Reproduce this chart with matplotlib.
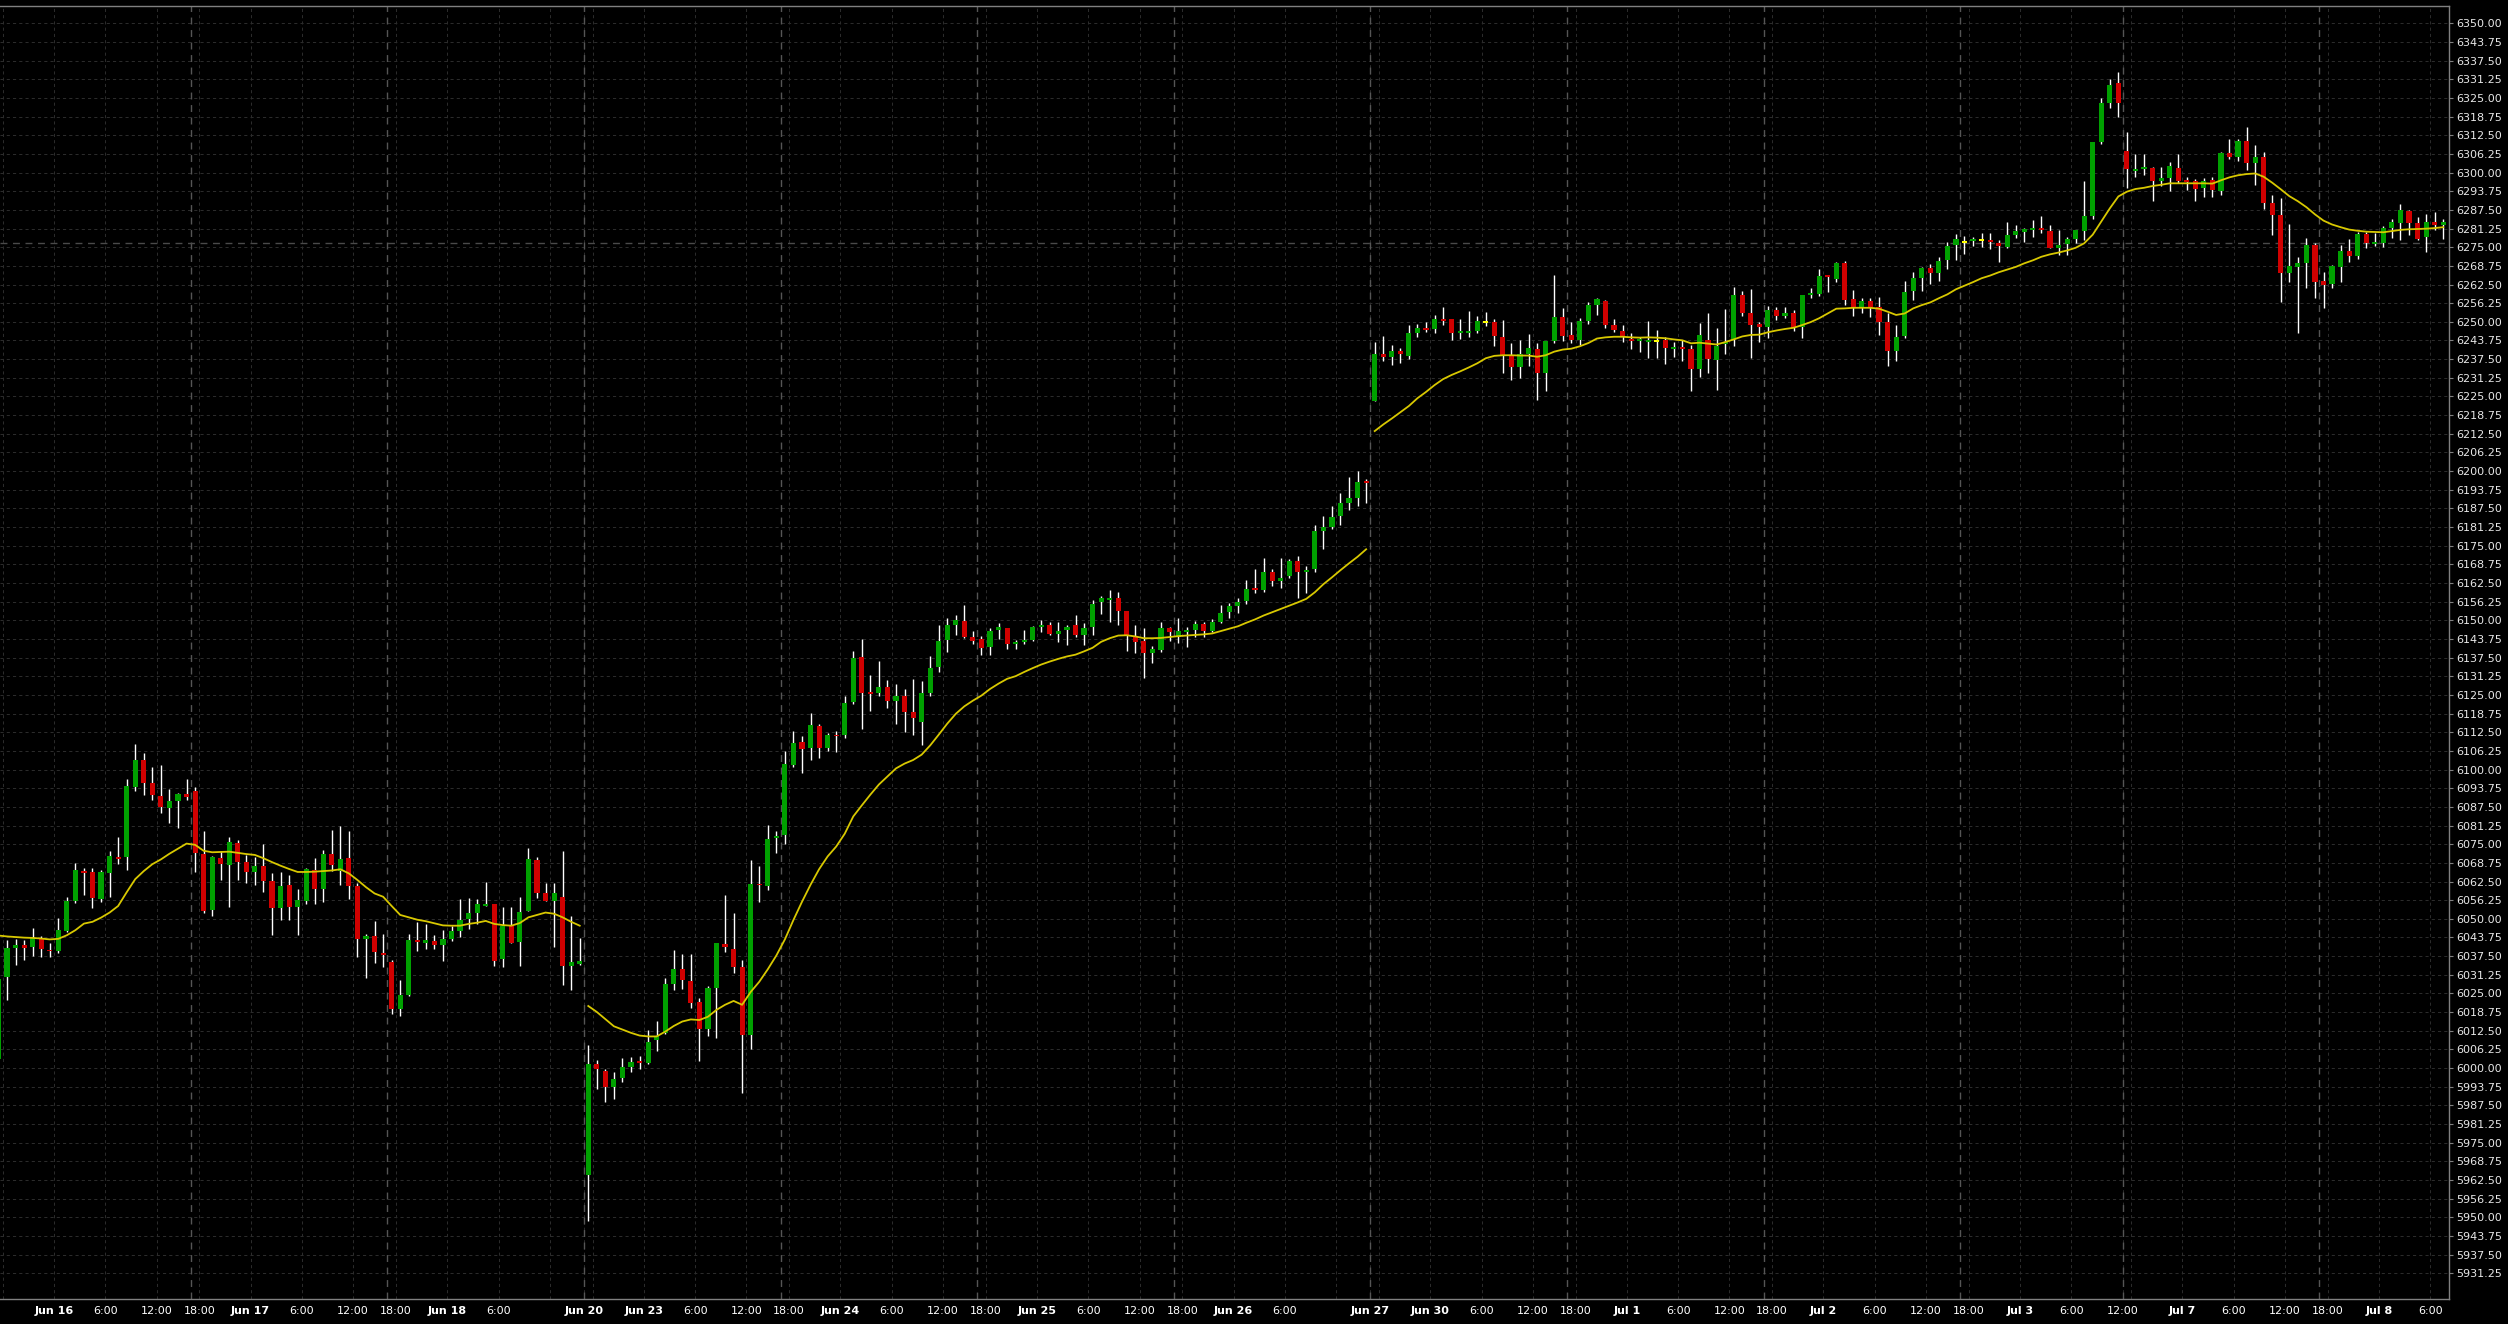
import numpy as np
import matplotlib
matplotlib.use('Agg')
import matplotlib.pyplot as plt

# hourly bars, one index per bar (sessions 17:00-15:00, gaps removed)
opens = [
    6003, 6030.4, 6040.1, 6041.2, 6040.7, 6043.5, 6039.7, 6039.3, 6046.0, 6056.0,
    6065.8, 6065.7, 6056.6, 6065.5, 6070.7, 6070.8, 6094.3, 6103.2, 6095.4, 6091.1,
    6087.2, 6089.5, 6091.7, 6092.8, 6071.7, 6053.0, 6070.3, 6068.1, 6075.3, 6068.9,
    6065.8, 6067.8, 6062.7, 6053.7, 6061.3, 6054.1, 6056.1, 6066.3, 6059.9, 6071.7,
    6066.0, 6070.4, 6061.0, 6043.1, 6044.2, 6038.4, 6035.4, 6019.7, 6024.5, 6042.9,
    6042.0, 6042.5, 6041.2, 6043.2, 6046.0, 6049.9, 6051.8, 6054.5, 6055.0, 6036.4,
    6047.7, 6042.3, 6052.7, 6069.7, 6058.8, 6056.1, 6057.2, 6034.2, 6035.0, 5964.2,
    6001.4, 5999.0, 5993.8, 5996.8, 6000.3, 6002.4, 6001.8, 6009.4, 6011.7, 6028.2,
    6033.2, 6029.2, 6022.2, 6013.1, 6026.8, 6041.7, 6039.8, 6033.8, 6011.0, 6061.8,
    6060.9, 6077.0, 6078.0, 6101.4, 6109.3, 6107.2, 6114.5, 6107.2, 6111.7, 6111.7,
    6122.7, 6137.7, 6126.0, 6125.7, 6127.6, 6123.1, 6124.5, 6119.3, 6116.0, 6125.7,
    6134.5, 6143.4, 6148.5, 6149.7, 6144.3, 6143.8, 6141.2, 6146.6, 6147.4, 6142.3,
    6142.8, 6143.4, 6147.9, 6148.3, 6145.5, 6146.7, 6148.3, 6145.0, 6147.7, 6156.0,
    6157.0, 6157.4, 6153.2, 6144.6, 6143.0, 6138.9, 6140.1, 6147.4, 6144.5, 6146.2,
    6146.8, 6148.8, 6146.4, 6149.3, 6152.8, 6154.8, 6156.5, 6160.7, 6160.2, 6166.2,
    6163.2, 6164.9, 6169.9, 6166.3, 6167.2, 6179.9, 6181.2, 6185.0, 6189.3, 6191.0,
    6196.7, 6223.5, 6239.2, 6238.3, 6240.2, 6238.7, 6246.2, 6247.8, 6247.7, 6250.9,
    6250.9, 6246.4, 6246.4, 6246.9, 6250.0, 6250.0, 6244.8, 6238.9, 6235.0, 6239.2,
    6240.9, 6233.0, 6243.6, 6251.5, 6245.6, 6243.9, 6250.3, 6255.6, 6257.0, 6249.0,
    6246.9, 6244.1, 6243.8, 6243.4, 6243.7, 6243.9, 6241.0, 6241.4, 6240.8, 6234.2,
    6243.9, 6237.2, 6242.6, 6243.9, 6259.0, 6252.8, 6249.3, 6248.4, 6254.0, 6252.0,
    6252.8, 6248.1, 6259.0, 6259.3, 6265.7, 6264.2, 6269.8, 6257.5, 6255.1, 6257.0,
    6255.1, 6250.0, 6240.3, 6245.2, 6260.3, 6264.8, 6267.9, 6266.4, 6270.7, 6275.7,
    6276.8, 6277.2, 6277.5, 6277.4, 6276.3, 6275.2, 6279.1, 6280.2, 6281.0, 6281.3,
    6280.4, 6274.8, 6276.1, 6277.7, 6280.5, 6285.4, 6310.3, 6323.4, 6329.9, 6307.3,
    6300.6, 6301.3, 6301.6, 6297.3, 6298.3, 6301.6, 6297.5, 6297.2, 6294.8, 6297.5,
    6293.9, 6306.4, 6305.3, 6310.6, 6303.1, 6305.1, 6289.7, 6285.8, 6266.2, 6268.5,
    6269.8, 6275.7, 6263.8, 6262.7, 6268.5, 6273.7, 6272.2, 6279.4, 6276.0, 6276.3,
    6281.5, 6283.2, 6287.1, 6283.0, 6278.5, 6283.3, 6282.4]
highs = [
    6032, 6042.9, 6043.1, 6042.9, 6047.0, 6044.3, 6041.8, 6050.2, 6057.4, 6068.6,
    6066.9, 6066.9, 6066.5, 6072.7, 6077.5, 6097.0, 6108.6, 6105.4, 6101.0, 6101.5,
    6093.4, 6092.3, 6096.7, 6094.0, 6079.4, 6071.0, 6072.8, 6077.5, 6076.4, 6071.4,
    6070.8, 6075.1, 6065.2, 6065.8, 6064.7, 6059.9, 6066.9, 6070.3, 6073.1, 6079.8,
    6081.1, 6079.4, 6062.1, 6044.8, 6049.3, 6044.8, 6036.2, 6029.5, 6044.8, 6049.1,
    6048.3, 6044.6, 6046.3, 6047.7, 6056.5, 6057.1, 6056.7, 6062.4, 6055.0, 6054.1,
    6054.1, 6057.4, 6073.6, 6070.8, 6061.9, 6061.9, 6072.7, 6051.0, 6043.5, 6007.7,
    6002.7, 5999.7, 5998.8, 6003.5, 6003.7, 6004.1, 6012.6, 6015.9, 6030.1, 6039.6,
    6038.2, 6038.2, 6023.6, 6027.5, 6042.0, 6058.1, 6052.0, 6036.2, 6069.7, 6067.6,
    6081.3, 6079.4, 6106.2, 6112.9, 6111.1, 6119.0, 6115.4, 6112.3, 6112.9, 6124.5,
    6139.7, 6143.8, 6131.8, 6136.5, 6130.0, 6128.8, 6127.0, 6130.4, 6129.6, 6138.2,
    6148.6, 6150.7, 6151.9, 6155.3, 6146.5, 6144.6, 6147.3, 6149.1, 6147.4, 6143.4,
    6146.7, 6148.2, 6150.1, 6149.5, 6149.5, 6148.3, 6151.9, 6149.1, 6156.8, 6158.0,
    6160.1, 6159.5, 6153.2, 6148.3, 6147.4, 6141.3, 6149.5, 6147.9, 6150.7, 6147.9,
    6149.9, 6149.6, 6150.3, 6155.1, 6155.7, 6157.4, 6163.5, 6167.1, 6170.8, 6167.1,
    6170.8, 6170.4, 6171.6, 6168.2, 6181.9, 6184.9, 6188.3, 6192.8, 6198.1, 6200.1,
    6197.2, 6243.4, 6245.3, 6242.2, 6241.1, 6248.9, 6249.3, 6250.1, 6252.3, 6255.1,
    6250.9, 6250.9, 6253.6, 6251.9, 6253.4, 6250.8, 6250.6, 6243.0, 6243.9, 6245.9,
    6242.8, 6243.6, 6265.7, 6254.5, 6250.1, 6251.4, 6256.7, 6257.9, 6257.3, 6250.8,
    6248.9, 6246.1, 6244.8, 6250.3, 6247.3, 6245.0, 6243.3, 6243.9, 6242.2, 6249.5,
    6252.8, 6247.8, 6254.2, 6261.8, 6260.4, 6261.0, 6250.0, 6255.3, 6255.1, 6255.1,
    6254.0, 6259.0, 6261.2, 6267.6, 6265.7, 6270.1, 6270.5, 6260.6, 6257.9, 6257.9,
    6258.4, 6253.1, 6248.9, 6263.8, 6266.8, 6268.5, 6269.4, 6271.8, 6276.8, 6279.4,
    6278.7, 6278.3, 6279.9, 6279.9, 6277.4, 6283.5, 6282.4, 6281.3, 6284.1, 6285.4,
    6282.4, 6280.8, 6278.5, 6280.8, 6297.2, 6310.3, 6324.9, 6331.2, 6333.8, 6313.7,
    6306.2, 6306.2, 6302.0, 6302.0, 6303.6, 6306.2, 6298.4, 6297.7, 6298.1, 6298.6,
    6307.0, 6311.2, 6311.2, 6315.4, 6309.2, 6307.0, 6292.5, 6291.4, 6282.8, 6271.8,
    6278.0, 6276.3, 6266.8, 6269.0, 6275.7, 6277.7, 6280.0, 6280.2, 6279.9, 6282.1,
    6284.3, 6289.5, 6287.5, 6285.2, 6286.1, 6286.7, 6284.3]
lows = [
    6001, 6022.8, 6034.5, 6036.2, 6037.5, 6037.3, 6037.3, 6038.4, 6045.7, 6055.2,
    6058.0, 6053.5, 6055.5, 6057.4, 6068.4, 6066.4, 6092.9, 6091.5, 6089.8, 6085.3,
    6082.2, 6080.3, 6089.8, 6065.8, 6052.0, 6051.0, 6063.0, 6053.9, 6063.0, 6061.9,
    6061.3, 6059.1, 6044.6, 6049.6, 6049.6, 6044.6, 6055.0, 6055.0, 6055.8, 6066.1,
    6061.3, 6056.6, 6037.3, 6030.1, 6035.1, 6033.7, 6018.1, 6017.4, 6024.2, 6039.3,
    6039.8, 6039.8, 6036.0, 6042.7, 6043.8, 6046.5, 6048.2, 6054.4, 6034.3, 6034.0,
    6041.8, 6034.3, 6052.7, 6056.9, 6055.9, 6040.7, 6027.8, 6026.2, 6034.5, 5948.9,
    5993.0, 5988.8, 5989.7, 5995.5, 5998.8, 5999.7, 6001.4, 6005.7, 6011.5, 6026.2,
    6026.5, 6020.2, 6002.5, 6010.9, 6010.2, 6039.0, 6031.9, 5991.7, 6006.3, 6055.7,
    6059.7, 6072.1, 6075.2, 6100.8, 6098.9, 6103.2, 6103.8, 6106.2, 6106.0, 6110.5,
    6122.1, 6113.6, 6119.6, 6124.5, 6120.6, 6115.4, 6112.6, 6111.7, 6108.3, 6124.8,
    6132.8, 6139.4, 6145.2, 6144.2, 6142.2, 6138.5, 6138.5, 6143.8, 6140.3, 6140.3,
    6142.2, 6143.0, 6146.2, 6145.0, 6142.8, 6141.6, 6144.3, 6141.6, 6145.2, 6152.2,
    6149.5, 6148.3, 6139.7, 6139.1, 6130.6, 6135.8, 6139.4, 6143.0, 6142.5, 6141.2,
    6144.3, 6144.3, 6146.2, 6149.0, 6150.9, 6152.6, 6155.4, 6159.3, 6159.6, 6161.5,
    6160.9, 6164.1, 6157.6, 6159.1, 6166.3, 6173.9, 6180.6, 6181.9, 6187.0, 6188.3,
    6189.4, 6223.5, 6237.0, 6235.5, 6236.3, 6237.6, 6244.8, 6246.7, 6246.4, 6248.9,
    6243.9, 6244.1, 6244.8, 6246.1, 6248.6, 6241.9, 6233.0, 6230.5, 6231.3, 6235.2,
    6223.8, 6226.9, 6243.0, 6243.7, 6243.0, 6242.2, 6249.3, 6252.3, 6247.8, 6246.7,
    6243.4, 6240.9, 6240.0, 6237.8, 6237.8, 6235.9, 6238.3, 6237.0, 6226.9, 6231.6,
    6233.0, 6227.2, 6239.2, 6241.9, 6251.9, 6238.0, 6243.4, 6244.7, 6250.6, 6251.2,
    6247.0, 6244.7, 6257.9, 6258.6, 6260.1, 6263.4, 6255.6, 6251.9, 6253.1, 6251.7,
    6245.6, 6235.2, 6237.0, 6244.7, 6257.3, 6260.4, 6262.7, 6263.8, 6267.6, 6270.7,
    6272.7, 6275.4, 6275.2, 6274.4, 6270.1, 6274.6, 6278.0, 6276.9, 6278.5, 6279.9,
    6274.8, 6272.4, 6272.4, 6276.3, 6277.4, 6284.3, 6309.6, 6321.5, 6318.7, 6294.9,
    6298.4, 6299.2, 6290.6, 6295.6, 6293.9, 6296.4, 6294.1, 6290.6, 6291.7, 6291.9,
    6292.5, 6304.5, 6304.0, 6300.9, 6295.8, 6287.8, 6279.1, 6256.7, 6263.4, 6246.2,
    6261.2, 6257.9, 6254.5, 6261.2, 6263.4, 6270.2, 6271.1, 6274.8, 6275.4, 6274.9,
    6278.0, 6277.4, 6279.1, 6277.4, 6273.5, 6280.7, 6277.7]
closes = [
    6030, 6040.1, 6041.2, 6040.3, 6043.5, 6039.8, 6039.1, 6046.3, 6056.0, 6066.4,
    6065.5, 6057.1, 6065.7, 6071.0, 6070.2, 6094.5, 6103.2, 6095.4, 6091.5, 6087.6,
    6089.5, 6091.8, 6090.9, 6072.2, 6052.7, 6070.6, 6068.2, 6075.6, 6069.1, 6065.8,
    6067.7, 6062.8, 6053.5, 6061.0, 6054.1, 6056.3, 6066.6, 6059.9, 6071.7, 6068.1,
    6070.0, 6061.1, 6043.1, 6044.2, 6038.8, 6037.9, 6019.7, 6024.5, 6042.9, 6042.3,
    6042.9, 6041.2, 6043.2, 6045.9, 6049.6, 6051.8, 6054.9, 6054.9, 6036.0, 6047.7,
    6042.0, 6052.4, 6069.9, 6058.8, 6056.1, 6058.8, 6034.2, 6035.5, 6036.0, 6001.4,
    5999.7, 5993.8, 5996.3, 6000.4, 6002.1, 6001.8, 6008.7, 6010.9, 6028.2, 6033.2,
    6029.5, 6021.9, 6013.1, 6026.9, 6041.9, 6040.5, 6033.8, 6011.0, 6061.8, 6061.2,
    6076.6, 6077.6, 6102.0, 6108.9, 6106.9, 6114.8, 6107.2, 6111.7, 6111.1, 6122.4,
    6137.3, 6125.7, 6125.4, 6127.6, 6123.1, 6124.5, 6119.4, 6117.2, 6125.5, 6134.0,
    6143.0, 6148.3, 6150.1, 6144.3, 6143.2, 6140.7, 6146.5, 6147.7, 6142.2, 6142.5,
    6143.4, 6147.7, 6148.4, 6145.5, 6146.5, 6147.9, 6145.2, 6147.4, 6155.6, 6157.4,
    6157.4, 6153.2, 6145.0, 6142.8, 6138.9, 6140.4, 6147.4, 6146.2, 6146.4, 6146.8,
    6148.8, 6146.4, 6149.3, 6152.3, 6154.8, 6156.3, 6160.4, 6160.1, 6166.2, 6163.2,
    6164.1, 6169.9, 6166.3, 6166.9, 6179.9, 6181.3, 6184.7, 6189.4, 6191.0, 6196.3,
    6195.9, 6239.2, 6238.3, 6240.2, 6239.1, 6246.2, 6247.8, 6247.3, 6250.9, 6250.3,
    6246.4, 6246.9, 6246.9, 6250.3, 6250.0, 6245.3, 6238.9, 6235.0, 6239.2, 6241.3,
    6233.0, 6243.6, 6251.5, 6245.4, 6243.9, 6250.3, 6255.6, 6257.5, 6249.0, 6247.3,
    6245.0, 6243.7, 6244.1, 6243.9, 6243.7, 6241.3, 6241.4, 6241.0, 6234.2, 6245.6,
    6237.5, 6241.9, 6243.4, 6259.0, 6252.8, 6248.9, 6248.4, 6254.0, 6252.0, 6252.8,
    6247.8, 6259.0, 6259.8, 6265.3, 6264.9, 6269.8, 6257.3, 6255.1, 6257.0, 6255.1,
    6250.0, 6240.3, 6245.0, 6259.9, 6264.6, 6267.9, 6266.2, 6270.4, 6275.4, 6277.6,
    6276.8, 6277.7, 6277.5, 6276.8, 6275.5, 6279.1, 6280.4, 6281.0, 6281.3, 6280.8,
    6274.8, 6275.7, 6277.6, 6280.8, 6285.4, 6310.3, 6323.4, 6329.3, 6323.2, 6301.1,
    6301.2, 6301.8, 6297.3, 6298.3, 6302.2, 6297.3, 6296.9, 6294.5, 6297.2, 6294.3,
    6306.7, 6305.3, 6310.6, 6303.1, 6305.1, 6289.9, 6285.8, 6266.5, 6268.7, 6269.8,
    6275.7, 6263.4, 6262.3, 6268.7, 6273.7, 6272.2, 6279.4, 6276.3, 6276.8, 6281.3,
    6283.3, 6287.5, 6283.2, 6277.7, 6283.3, 6282.4, 6283.4]

# moving average line as drawn on the chart (restarts after the data gaps)
ma = [
    6044.4, 6044.1, 6043.9, 6043.7, 6043.6, 6043.4, 6043.1, 6043.3, 6044.5, 6046.2,
    6048.4, 6049.0, 6050.4, 6052.1, 6054.3, 6058.9, 6063.3, 6066.0, 6068.3, 6069.9,
    6071.8, 6073.5, 6075.2, 6074.8, 6072.8, 6072.3, 6072.4, 6072.5, 6072.1, 6071.7,
    6071.4, 6070.3, 6069.0, 6067.8, 6066.7, 6065.7, 6065.7, 6065.8, 6066.0, 6066.2,
    6066.6, 6065.2, 6063.0, 6060.6, 6058.5, 6057.4, 6054.3, 6051.3, 6050.5, 6049.7,
    6049.2, 6048.5, 6047.8, 6047.7, 6047.7, 6048.3, 6048.7, 6049.3, 6048.3, 6047.9,
    6047.7, 6048.6, 6050.5, 6051.3, 6052.1, 6051.7, 6050.5, 6049.0, 6047.7, 6020.8,
    6018.8, 6016.4, 6014.0, 6012.9, 6011.8, 6010.9, 6010.6, 6010.6, 6012.2, 6014.1,
    6015.6, 6016.3, 6016.1, 6017.2, 6019.5, 6021.2, 6022.5, 6021.2, 6025.5, 6028.9,
    6033.1, 6037.7, 6043.1, 6049.6, 6055.7, 6061.4, 6066.6, 6070.9, 6074.2, 6078.5,
    6084.3, 6088.0, 6091.6, 6095.0, 6097.7, 6100.4, 6102.0, 6103.2, 6105.0, 6108.1,
    6111.7, 6115.4, 6118.7, 6121.2, 6123.1, 6124.8, 6127.0, 6128.8, 6130.4, 6131.3,
    6132.7, 6134.0, 6135.2, 6136.2, 6137.1, 6137.9, 6138.5, 6139.6, 6140.8, 6142.8,
    6144.0, 6144.9, 6145.0, 6144.6, 6144.0, 6144.0, 6144.1, 6144.4, 6144.7, 6144.9,
    6145.1, 6145.3, 6145.6, 6146.4, 6147.2, 6148.0, 6149.2, 6150.3, 6151.6, 6152.7,
    6153.8, 6154.9, 6156.0, 6157.2, 6159.4, 6162.1, 6164.4, 6166.8, 6169.1, 6171.3,
    6173.8, 6213.4, 6215.6, 6217.6, 6219.7, 6221.8, 6224.4, 6226.5, 6228.8, 6230.8,
    6232.2, 6233.4, 6234.7, 6236.1, 6237.8, 6238.6, 6238.8, 6238.8, 6238.7, 6238.7,
    6238.3, 6238.8, 6240.0, 6240.7, 6241.0, 6241.8, 6242.9, 6244.4, 6244.8, 6245.0,
    6245.0, 6244.8, 6244.7, 6244.8, 6244.7, 6244.5, 6244.1, 6243.8, 6242.8, 6243.0,
    6242.7, 6242.4, 6243.2, 6244.1, 6245.1, 6245.6, 6245.7, 6246.5, 6247.1, 6247.6,
    6248.0, 6248.9, 6249.9, 6251.2, 6252.8, 6254.4, 6254.5, 6254.7, 6254.7, 6254.7,
    6254.4, 6253.4, 6252.3, 6252.8, 6254.5, 6255.6, 6256.5, 6257.9, 6259.2, 6260.9,
    6262.1, 6263.3, 6264.6, 6265.5, 6266.6, 6267.5, 6268.4, 6269.6, 6270.6, 6271.8,
    6272.6, 6273.2, 6273.9, 6274.8, 6276.3, 6279.2, 6283.6, 6288.0, 6292.0, 6293.6,
    6294.5, 6294.9, 6295.5, 6295.9, 6296.4, 6296.4, 6296.4, 6296.4, 6296.4, 6296.3,
    6297.4, 6298.4, 6299.1, 6299.5, 6299.7, 6298.6, 6296.6, 6294.4, 6292.1, 6290.4,
    6288.4, 6286.0, 6283.9, 6282.6, 6281.7, 6280.9, 6280.5, 6280.2, 6280.1, 6280.0,
    6280.4, 6280.8, 6281.0, 6281.1, 6281.2, 6281.4, 6281.7]
ma_starts = [0, 69, 161]

# first bar (17:00) of each session -> dashed separators
session_starts = [23, 46, 69, 92, 115, 138, 161, 184, 207, 230, 249, 272]

# axis labels sit on the left edge of the bar they name
tick_bars = [1, 7, 13, 19, 24, 30, 36, 42, 47, 53, 59, 65, 69, 70, 76, 82, 88, 93,
             99, 105, 111, 116, 122, 128, 134, 139, 145, 151, 157, 161, 162, 168,
             174, 180, 185, 191, 197, 203, 208, 214, 220, 226, 231, 237, 243, 249,
             250, 256, 262, 268, 273, 279, 285]
tick_labels = ['', 'Jun 16', '6:00', '12:00', '18:00', 'Jun 17', '6:00', '12:00', '18:00',
               'Jun 18', '6:00', '', 'Jun 20', '', 'Jun 23', '6:00', '12:00', '18:00',
               'Jun 24', '6:00', '12:00', '18:00', 'Jun 25', '6:00', '12:00', '18:00',
               'Jun 26', '6:00', '', 'Jun 27', '', 'Jun 30', '6:00', '12:00', '18:00',
               'Jul 1', '6:00', '12:00', '18:00', 'Jul 2', '6:00', '12:00', '18:00',
               'Jul 3', '6:00', '12:00', '', 'Jul 7', '6:00', '12:00', '18:00',
               'Jul 8', '6:00']

price_line = 6276.25

o = np.array(opens)
h = np.array(highs)
l = np.array(lows)
c = np.array(closes)
x = np.arange(len(o))

fig = plt.figure(figsize=(25.08, 13.24), dpi=100, facecolor='black')
ax = fig.add_axes([0, 25 / 1324, 2449 / 2508, 1293 / 1324])
ax.set_facecolor('black')

# grid
yt = np.arange(5931.25, 6350.01, 6.25)
for y in yt:
    ax.axhline(y, color='#2b2b2b', lw=0.75, ls=(0, (3, 3)), zorder=0)
for b in tick_bars:
    ax.axvline(b - 0.5, color='#2b2b2b', lw=0.75, ls=(0, (3, 3)), zorder=0)
for s in session_starts:
    ax.axvline(s - 0.5, color='#555555', lw=1.0, ls=(0, (5, 4)), zorder=1)
ax.axhline(price_line, color='#4a4a4a', lw=1.0, ls=(0, (5, 4)), zorder=1)

# candles
cols = np.where(c > o, '#00a000', np.where(c < o, '#d00000', '#ffff00'))
ax.vlines(x, l, h, color='white', lw=1.0, zorder=3)
body = np.abs(c - o)
hgt = np.maximum(body, 0.6)
bot = np.minimum(o, c) - (hgt - body) / 2
ax.bar(x, hgt, bottom=bot, width=0.6, color=cols, linewidth=0, zorder=4)

# moving average
ma = np.array(ma)
ends = ma_starts[1:] + [len(ma)]
for s, e in zip(ma_starts, ends):
    ax.plot(x[s:e], ma[s:e], color='#d8c800', lw=1.3, zorder=5)

ax.set_xlim(0.18, 286.68)
ax.set_ylim(5922.64, 6355.8)

ax.yaxis.tick_right()
ax.set_yticks(yt)
ax.set_yticklabels(['%.2f' % v for v in yt])
ax.set_xticks([b - 0.5 for b in tick_bars])
ax.set_xticklabels(tick_labels)
for t in ax.get_xticklabels():
    if t.get_text().startswith('J'):
        t.set_fontweight('bold')

ax.tick_params(axis='x', length=0, pad=5, labelsize=8, colors='white')
ax.tick_params(axis='y', length=3, pad=2, labelsize=8, color='#808080', labelcolor='#e8e8e8')

ax.spines['left'].set_visible(False)
for sp in ['top', 'right', 'bottom']:
    ax.spines[sp].set_color('#808080')
    ax.spines[sp].set_linewidth(1.0)

fig.savefig('out.png', dpi=100, facecolor='black')
